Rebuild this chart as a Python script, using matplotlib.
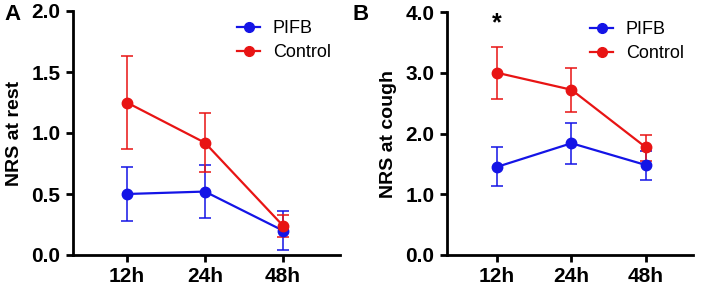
import matplotlib.pyplot as plt
from matplotlib.lines import Line2D

plt.rcParams['font.family'] = ['Liberation Sans', 'DejaVu Sans']

times = ['12h', '24h', '48h']

# panel A - NRS at rest
rest_pifb = [0.50, 0.52, 0.20]
rest_pifb_lo = [0.28, 0.30, 0.04]
rest_pifb_hi = [0.72, 0.74, 0.36]
rest_ctrl = [1.25, 0.92, 0.24]
rest_ctrl_lo = [0.87, 0.68, 0.15]
rest_ctrl_hi = [1.63, 1.16, 0.33]

# panel B - NRS at cough
cough_pifb = [1.45, 1.84, 1.48]
cough_pifb_lo = [1.13, 1.50, 1.23]
cough_pifb_hi = [1.77, 2.17, 1.72]
cough_ctrl = [3.00, 2.72, 1.77]
cough_ctrl_lo = [2.57, 2.35, 1.55]
cough_ctrl_hi = [3.43, 3.08, 1.97]

blue = '#1414e6'
red = '#e81414'

fig = plt.figure(figsize=(7.02, 2.91), dpi=100)
axA = fig.add_axes([73/702, 36/291, 267/702, 244/291])
axB = fig.add_axes([447/702, 36/291, 246/702, 243/291])


def draw(ax, pifb, plo, phi, ctrl, clo, chi):
    x = list(range(len(times)))
    handles = []
    for y, lo, hi, c, lab in [(pifb, plo, phi, blue, 'PIFB'), (ctrl, clo, chi, red, 'Control')]:
        err = [[v - l for v, l in zip(y, lo)], [h - v for v, h in zip(y, hi)]]
        ax.errorbar(x, y, yerr=err, color=c, marker='o', ms=7.5, lw=1.6,
                    elinewidth=1.1, capsize=4.5, capthick=1.1)
        handles.append(Line2D([], [], color=c, marker='o', ms=7, lw=1.6, label=lab))
    ax.set_xticks(x)
    ax.set_xticklabels(times, fontweight='bold', fontsize=15)
    for s in ['top', 'right']:
        ax.spines[s].set_visible(False)
    for s in ['left', 'bottom']:
        ax.spines[s].set_linewidth(2)
    ax.tick_params(width=2, length=5, pad=4)
    ax.legend(handles=handles, loc='upper right', frameon=False, fontsize=13,
              handlelength=1.3, handletextpad=0.7, borderaxespad=0.1,
              labelspacing=0.4, bbox_to_anchor=(1.0, 1.0))


draw(axA, rest_pifb, rest_pifb_lo, rest_pifb_hi, rest_ctrl, rest_ctrl_lo, rest_ctrl_hi)
axA.set_xlim(-0.69, 2.73)
axA.set_ylim(0, 2.0)
axA.set_yticks([0, 0.5, 1.0, 1.5, 2.0])
axA.set_yticklabels(['0.0', '0.5', '1.0', '1.5', '2.0'], fontweight='bold', fontsize=15)
axA.set_ylabel('NRS at rest', fontweight='bold', fontsize=14, labelpad=6)

draw(axB, cough_pifb, cough_pifb_lo, cough_pifb_hi, cough_ctrl, cough_ctrl_lo, cough_ctrl_hi)
axB.set_xlim(-0.67, 2.63)
axB.set_ylim(0, 4.0)
axB.set_yticks([0, 1, 2, 3, 4])
axB.set_yticklabels(['0.0', '1.0', '2.0', '3.0', '4.0'], fontweight='bold', fontsize=15)
axB.set_ylabel('NRS at cough', fontweight='bold', fontsize=14, labelpad=6)
axB.text(0, 3.82, '*', ha='center', va='center', fontsize=18, fontweight='bold')

fig.text(4/702, 1 - 15/291, 'A', fontsize=16, fontweight='bold', va='center')
fig.text(353/702, 1 - 15/291, 'B', fontsize=16, fontweight='bold', va='center')

fig.savefig('out.png', dpi=100)
